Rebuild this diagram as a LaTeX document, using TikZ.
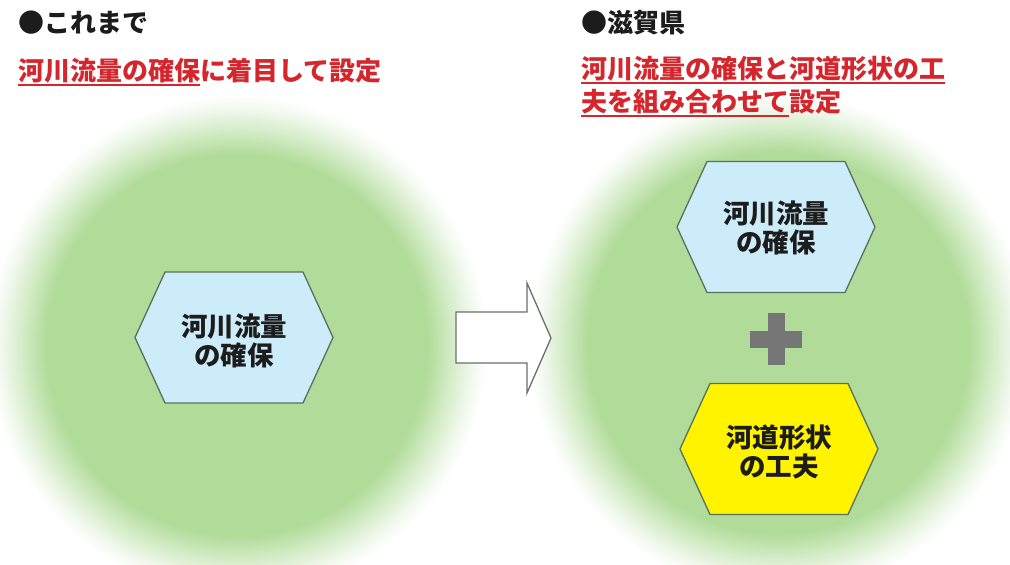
\documentclass[tikz,border=0pt]{standalone}
\usepackage{fontspec}
\newfontfamily\jp{Noto Sans CJK JP}
\definecolor{glow}{RGB}{176,219,152}
\definecolor{glowmid}{RGB}{212,236,199}
\definecolor{glowlight}{RGB}{240,248,236}
\definecolor{hexblue}{RGB}{205,236,250}
\definecolor{hexyellow}{RGB}{255,243,0}
\definecolor{hexline}{RGB}{90,112,95}
\definecolor{txtred}{RGB}{212,38,44}
\definecolor{txtblack}{RGB}{28,28,28}
\definecolor{plusgray}{RGB}{118,118,118}
\definecolor{arrowgray}{RGB}{110,110,110}
\pgfdeclareradialshading{glowshade}{\pgfpoint{0bp}{0bp}}{color(0bp)=(glow); color(19bp)=(glow); color(21.5bp)=(glowmid); color(23.5bp)=(glowlight); color(25bp)=(white); color(50bp)=(white)}
\newcommand{\redul}[1]{\setbox0\hbox{\color{txtred}#1}\rlap{\color{txtred}\rule[-6pt]{\wd0}{1.6pt}}\box0}
\newcommand{\hexpath}[3]{\draw[hexstyle, fill=#3] (#1-99,#2) -- (#1-69,#2-65.5) -- (#1+69,#2-65.5) -- (#1+99,#2) -- (#1+69,#2+65.5) -- (#1-69,#2+65.5) -- cycle;}
\tikzset{
  hexstyle/.style={draw=hexline, line width=1.3pt, line join=miter},
  hextext/.style={font=\jp\bfseries\fontsize{26.5}{29}\selectfont, text=txtblack, align=center, inner sep=0pt},
  titletext/.style={font=\jp\bfseries\fontsize{26}{29}\selectfont, text=txtblack, anchor=base west, inner sep=0pt},
  arrowstyle/.style={draw=arrowgray, fill=white, line width=1.3pt, line join=miter},
}
\begin{document}
\begin{tikzpicture}[x=1pt,y=-1pt]
\useasboundingbox (0,0) rectangle (1010,565);
\clip (0,0) rectangle (1010,565);
\fill[white] (0,0) rectangle (1010,565);
% glows
\shade[shading=glowshade] (237,345) circle (250pt);
\shade[shading=glowshade] (778,343) circle (250pt);
% titles
\node[titletext] (t1) at (18,32) {●これまで};
\node[titletext] (t2) at (18,80) {\redul{河川流量の確保}に着目して設定};
\node[titletext] (t3) at (581,32) {●滋賀県};
\node[titletext] (t4) at (581,78) {\redul{河川流量の確保と河道形状の工}};
\node[titletext] (t5) at (581,111) {\redul{夫を組み合わせて}設定};
% left hexagon
\hexpath{234}{337.5}{hexblue}
\node[hextext] (hL) at (234,341) {河川流量\\の確保};
% arrow
\draw[arrowstyle] (456,312) -- (527,312) -- (527,283) -- (551,338) -- (527,393) -- (527,363) -- (456,363) -- cycle;
\coordinate (arr) at (503,338);
% right hexagons
\hexpath{776}{227}{hexblue}
\node[hextext] (hR1) at (776,228) {河川流量\\の確保};
\hexpath{779}{449}{hexyellow}
\node[hextext] (hR2) at (779,452) {河道形状\\の工夫};
% plus
\node[fill=plusgray, minimum width=52pt, minimum height=17pt, inner sep=0pt] (plush) at (776,339) {};
\node[fill=plusgray, minimum width=17pt, minimum height=52pt, inner sep=0pt] (plusv) at (776,339) {};
\end{tikzpicture}
\end{document}
